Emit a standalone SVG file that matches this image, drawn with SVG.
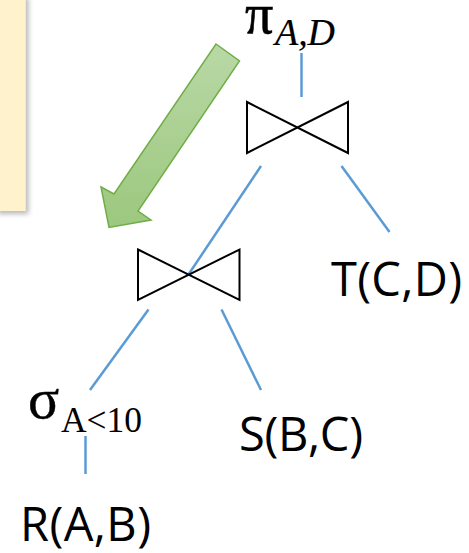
<svg xmlns="http://www.w3.org/2000/svg" width="469" height="553" viewBox="0 0 469 553">
  <defs>
    <linearGradient id="arrowFill" x1="0" y1="0" x2="0" y2="1">
      <stop offset="0" stop-color="#B9D8A6"/>
      <stop offset="1" stop-color="#9CC87E"/>
    </linearGradient>
    <filter id="shadow" x="-20%" y="-20%" width="160%" height="140%">
      <feDropShadow dx="3" dy="3" stdDeviation="2.5" flood-color="#000" flood-opacity="0.28"/>
    </filter>
    <style>
      .edge { stroke: #5B9BD5; stroke-width: 2.5; fill: none; }
      .join { stroke: #000; stroke-width: 2; fill: none; stroke-linejoin: miter; }
      .rel { font-family: "Open Sans", "Liberation Sans", sans-serif; font-size: 47px; fill: #000; }
      .op { font-family: "Liberation Serif", "DejaVu Serif", serif; fill: #000; }
    </style>
  </defs>

  <!-- note panel at the left edge -->
  <rect id="note" x="-5" y="-5" width="30.5" height="216" fill="#FFF2CC" filter="url(#shadow)"/>

  <!-- push-down arrow -->
  <polygon id="push-arrow" points="216,44 239.5,61 138,211 151,220 109,227.5 101,187 114,194" fill="url(#arrowFill)" stroke="#70AD47" stroke-width="1.5" stroke-linejoin="miter"/>

  <!-- tree connectors -->
  <g id="edges">
    <line class="edge" x1="301.5" y1="53" x2="301.5" y2="97"/>
    <line class="edge" x1="261" y1="166" x2="188.5" y2="274.5"/>
    <line class="edge" x1="341.5" y1="166" x2="389.5" y2="232"/>
    <line class="edge" x1="148.5" y1="309.5" x2="90" y2="390"/>
    <line class="edge" x1="221.5" y1="309.5" x2="261" y2="390"/>
    <line class="edge" x1="85.5" y1="436" x2="85.5" y2="474"/>
  </g>

  <!-- projection -->
  <g id="project">
    <text class="op" x="245" y="33" font-size="56" stroke="#000" stroke-width="0.6">π</text>
    <text class="op" x="275" y="45" font-size="37" font-style="italic" stroke="#000" stroke-width="0.2" textLength="60" lengthAdjust="spacingAndGlyphs">A,D</text>
  </g>

  <!-- upper join -->
  <g id="join-top">
    <path class="join" d="M247,102 L348,153 L348,102 L247,153 Z"/>
  </g>

  <!-- lower join -->
  <g id="join-bottom">
    <path class="join" d="M138,249.5 L239.5,300 L239.5,249.5 L138,300 Z"/>
  </g>

  <!-- relation T -->
  <g id="rel-T">
    <text class="rel" x="331" y="296" textLength="131">T(C,D)</text>
  </g>

  <!-- selection -->
  <g id="select">
    <text class="op" x="28" y="418" font-size="58" stroke="#000" stroke-width="0.4">σ</text>
    <text class="op" x="61" y="432" font-size="35" textLength="81" lengthAdjust="spacingAndGlyphs">A&lt;10</text>
  </g>

  <!-- relation S -->
  <g id="rel-S">
    <text class="rel" x="239" y="451" textLength="124">S(B,C)</text>
  </g>

  <!-- relation R -->
  <g id="rel-R">
    <text class="rel" x="20" y="541" textLength="131">R(A,B)</text>
  </g>
</svg>
